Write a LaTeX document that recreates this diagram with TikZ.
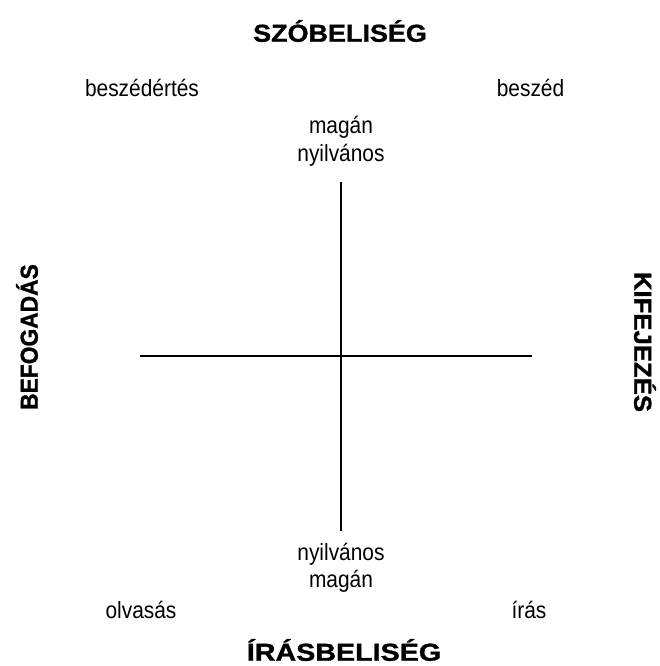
\documentclass[tikz,border=0pt]{standalone}
\usepackage{fontspec}
\setmainfont{Liberation Sans}[FakeStretch=0.89]
\newfontfamily\headA{Liberation Sans}[FakeStretch=1.10,FakeBold=1.2]
\newfontfamily\headB{Liberation Sans}[FakeStretch=1.17,FakeBold=1.2]
\newfontfamily\headC{Liberation Sans}[FakeStretch=0.93,FakeBold=1.2]
\newfontfamily\headD{Liberation Sans}[FakeStretch=1.05,FakeBold=1.2]
\begin{document}
\begin{tikzpicture}[x=1pt,y=-1pt,
  lbl/.style={font=\fontsize{23.5}{26}\selectfont, inner sep=0pt},
  head/.style={font=\fontsize{24.5}{28}\selectfont\bfseries, inner sep=0pt},
  axis/.style={line width=1.6pt}]
\useasboundingbox (0,0) rectangle (659,666);
\node[head] (szo) at (340,31) {\headA\bfseries SZÓBELISÉG};
\node[head] (iras) at (344,650) {\headB\bfseries ÍRÁSBELISÉG};
\node[head, rotate=90] (befo) at (27,337) {\headC\bfseries BEFOGADÁS};
\node[head, rotate=-90] (kife) at (645,342) {\headD\bfseries KIFEJEZÉS};
\node[lbl] (beszedertes) at (142,88) {beszédértés};
\node[lbl] (beszed) at (530.5,88) {beszéd};
\node[lbl] (olvasas) at (141,610) {olvasás};
\node[lbl] (irasl) at (529,610) {írás};
\node[lbl] (magan1) at (341,127) {magán};
\node[lbl] (nyil1) at (341,155) {nyilvános};
\node[lbl] (nyil2) at (341,554) {nyilvános};
\node[lbl] (magan2) at (341,581) {magán};
\coordinate (vt) at (341,182);
\coordinate (vb) at (341,531);
\coordinate (hl) at (140,356);
\coordinate (hr) at (532,356);
\draw[axis] (vt) -- (vb);
\draw[axis] (hl) -- (hr);
\end{tikzpicture}
\end{document}
